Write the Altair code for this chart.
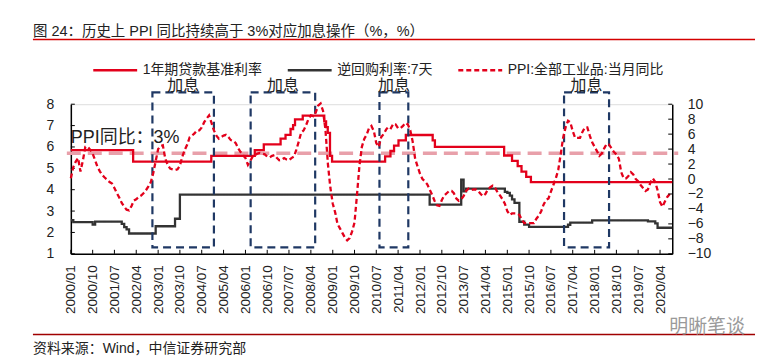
import altair as alt
import pandas as pd

FONT = "Liberation Sans, Arial, Noto Sans CJK SC, sans-serif"
RED = "#E3001B"
DARK = "#333333"
NAVY = "#1F3864"
PINK = "#E8A0AA"
TXT = "#222222"

# ---------------- data ----------------
title_text = "图 24：历史上 PPI 同比持续高于 3%对应加息操作（%，%）"
source_text = "资料来源：Wind，中信证券研究部"
watermark_text = "明晰笔谈"

SER_LEND = "1年期贷款基准利率"
SER_REPO = "逆回购利率:7天"
SER_PPI = "PPI:全部工业品:当月同比"

lend_dates = ["2000-01-01", "2002-02-21", "2004-10-29", "2006-04-28", "2006-08-19",
              "2007-03-18", "2007-05-19", "2007-07-21", "2007-08-22", "2007-09-15",
              "2007-12-21", "2008-09-16", "2008-10-09", "2008-10-30", "2008-11-27",
              "2008-12-23", "2010-10-20", "2010-12-26", "2011-02-09", "2011-04-06",
              "2011-07-07", "2012-06-08", "2012-07-06", "2014-11-22", "2015-03-01",
              "2015-05-11", "2015-06-28", "2015-08-26", "2015-10-24", "2020-09-01"]
lend_values = [5.85, 5.31, 5.58, 5.85, 6.12, 6.39, 6.57, 6.84, 7.02, 7.29,
               7.47, 7.20, 6.93, 6.66, 5.58, 5.31, 5.56, 5.81, 6.06, 6.31,
               6.56, 6.31, 6.00, 5.60, 5.35, 5.10, 4.85, 4.60, 4.35, 4.35]

repo_dates = ["2000-01-01", "2000-02-01", "2000-10-01", "2000-11-01", "2001-10-01",
              "2001-11-01", "2001-12-01", "2002-01-01", "2002-12-01", "2003-08-01",
              "2003-10-01", "2012-05-01", "2013-06-01", "2013-07-01", "2013-08-01",
              "2014-12-01", "2015-01-01", "2015-02-01", "2015-03-01", "2015-04-01",
              "2015-06-01", "2015-08-01", "2015-10-01", "2017-02-01", "2017-03-01",
              "2017-12-01", "2019-11-01", "2020-02-01", "2020-03-01", "2020-09-01"]
repo_values = [2.57, 2.48, 2.37, 2.51, 2.40, 2.25, 2.14, 1.95, 2.29, 2.64,
               3.77, 3.30, 4.47, 3.92, 4.05, 3.90, 3.85, 3.72, 3.55, 3.38,
               2.50, 2.37, 2.26, 2.36, 2.46, 2.56, 2.52, 2.42, 2.22, 2.22]

ppi_2000 = [0.1, 1.6, 2.3, 2.8, 1.0, 2.5, 4.3, 4.3, 3.9, 3.4, 2.5, 1.6]
ppi_2001 = [1.0, 0.5, 0.2, -0.1, -0.4, -0.6, -1.2, -1.9, -2.5, -3.2, -3.7, -4.1]
ppi_2002 = [-4.2, -3.6, -2.9, -2.7, -2.4, -2.2, -1.9, -1.5, -1.0, -0.4, 0.8, 2.4]
ppi_2003 = [4.0, 4.4, 4.5, 2.7, 1.9, 1.4, 1.3, 1.2, 1.3, 1.8, 3.0, 3.9]
ppi_2004 = [4.6, 5.6, 5.8, 6.1, 6.5, 6.5, 6.9, 7.6, 8.1, 8.5, 7.5, 6.5]
ppi_2005 = [5.8, 5.4, 5.6, 5.8, 5.9, 5.6, 5.2, 5.1, 4.8, 4.1, 3.6, 3.2]
ppi_2006 = [2.8, 1.9, 2.4, 3.0, 3.2, 3.4, 3.5, 3.4, 3.3, 3.0, 2.9, 3.1]
ppi_2007 = [3.2, 2.8, 2.5, 2.6, 2.8, 2.6, 2.5, 2.8, 3.0, 3.9, 5.0, 6.2]
ppi_2008 = [6.5, 7.2, 8.0, 8.5, 8.4, 8.9, 9.8, 10.1, 9.1, 6.6, 2.0, -1.1]
ppi_2009 = [-3.3, -4.5, -6.0, -6.6, -7.2, -7.8, -8.2, -7.9, -7.0, -5.8, -2.1, 1.7]
ppi_2010 = [4.3, 5.4, 5.9, 6.8, 7.1, 6.4, 4.8, 4.3, 5.6, 6.0, 6.6, 7.0]
ppi_2011 = [6.8, 7.4, 7.3, 6.8, 6.8, 7.1, 7.5, 7.3, 6.5, 5.0, 2.7, 1.7]
ppi_2012 = [0.7, 0.0, -0.3, -0.7, -1.4, -2.1, -2.9, -3.5, -3.6, -2.8, -2.2, -1.9]
ppi_2013 = [-1.6, -1.6, -1.9, -2.6, -2.9, -2.7, -2.3, -1.6, -1.3, -1.5, -1.4, -1.4]
ppi_2014 = [-1.6, -2.0, -2.3, -2.0, -1.4, -1.1, -0.9, -1.2, -1.8, -2.2, -2.7, -3.3]
ppi_2015 = [-4.3, -4.8, -4.6, -4.6, -4.6, -4.8, -5.4, -5.9, -5.9, -5.9, -5.9, -5.9]
ppi_2016 = [-5.3, -4.9, -4.3, -3.4, -2.8, -2.6, -1.7, -0.8, 0.1, 1.2, 3.3, 5.5]
ppi_2017 = [6.9, 7.8, 7.6, 6.4, 5.5, 5.5, 5.5, 6.3, 6.9, 6.9, 5.8, 4.9]
ppi_2018 = [4.3, 3.7, 3.1, 3.4, 4.1, 4.7, 4.6, 4.1, 3.6, 3.3, 2.7, 0.9]
ppi_2019 = [0.1, 0.1, 0.4, 0.9, 0.6, 0.0, -0.3, -0.8, -1.2, -1.6, -1.4, -0.5]
ppi_2020 = [0.1, -0.4, -1.5, -3.1, -3.7, -3.0, -2.4, -2.0]

box_starts = ["2002-10-21", "2006-03-07", "2010-08-10", "2016-12-13"]
box_ends = ["2004-12-01", "2008-05-25", "2011-08-07", "2018-07-01"]
box_label = "加息"
box_bottom = 1.3
box_top = 8.55
box_label_y = 8.85

ppi_line_label = "PPI同比：3%"
ppi_line_value = 3.45     # right axis
ppi_label_date = "2000-01-01"
ppi_label_y = 6.4         # left axis

tick_labels = ["2000/01", "2000/10", "2001/07", "2002/04", "2003/01", "2003/10", "2004/07",
               "2005/04", "2006/01", "2006/10", "2007/07", "2008/04", "2009/01", "2009/10",
               "2010/07", "2011/04", "2012/01", "2012/10", "2013/07", "2014/04", "2015/01",
               "2015/10", "2016/07", "2017/04", "2018/01", "2018/10", "2019/07", "2020/04"]
left_ticks = [1, 2, 3, 4, 5, 6, 7, 8]
right_ticks = [-10, -8, -6, -4, -2, 0, 2, 4, 6, 8, 10]

# ---------------- tables ----------------
ppi_values = (ppi_2000 + ppi_2001 + ppi_2002 + ppi_2003 + ppi_2004 + ppi_2005 + ppi_2006
              + ppi_2007 + ppi_2008 + ppi_2009 + ppi_2010 + ppi_2011 + ppi_2012 + ppi_2013
              + ppi_2014 + ppi_2015 + ppi_2016 + ppi_2017 + ppi_2018 + ppi_2019 + ppi_2020)
ppi_dates = [f"{2000 + i // 12}-{i % 12 + 1:02d}-01" for i in range(len(ppi_values))]

df_lend = pd.DataFrame({"date": lend_dates, "value": lend_values, "series": SER_LEND})
df_repo = pd.DataFrame({"date": repo_dates, "value": repo_values, "series": SER_REPO})
df_ppi = pd.DataFrame({"date": ppi_dates, "value": ppi_values, "series": SER_PPI})

mids = [(pd.Timestamp(s) + (pd.Timestamp(e) - pd.Timestamp(s)) / 2).strftime("%Y-%m-%d")
        for s, e in zip(box_starts, box_ends)]
df_box = pd.DataFrame({"start": box_starts, "end": box_ends, "mid": mids,
                       "lo": box_bottom, "hi": box_top, "ly": box_label_y, "label": box_label})
df_ticks = pd.DataFrame({"date": [t.replace("/", "-") + "-01" for t in tick_labels]})
df_lt = pd.DataFrame({"v": left_ticks})
df_rt = pd.DataFrame({"v": right_ticks})
df_one = pd.DataFrame({"a": [0]})
df_ppilabel = pd.DataFrame({"date": [ppi_label_date], "y": [ppi_label_y], "t": [ppi_line_label]})
df_pink = pd.DataFrame({"v": [ppi_line_value]})

W, H = 603, 150


def dt(s):
    y, m = s.split("/")
    return alt.DateTime(year=int(y), month=int(m), date=1, utc=True)


xscale = alt.Scale(type="utc", domain=[alt.DateTime(year=2000, month=1, date=1, utc=True),
                                       alt.DateTime(year=2020, month=9, date=1, utc=True)])
xaxis = alt.Axis(values=[dt(t) for t in tick_labels],
                 labelExpr="utcFormat(datum.value, '%Y/%m')",
                 labelAngle=270, tickSize=0, labelPadding=11, labelFontSize=13.5,
                 labelColor=TXT, labelFont=FONT, labelOverlap=False, labelFlush=False,
                 domainColor="#000000", domainWidth=1.5, grid=False, title=None)
lscale = alt.Scale(domain=[1, 8], nice=False, zero=False)
rscale = alt.Scale(domain=[-10, 10], nice=False, zero=False)
laxis = alt.Axis(values=left_ticks, tickSize=0, labelPadding=17, labelFontSize=14,
                 labelColor=TXT, labelFont=FONT, domainColor="#000000", domainWidth=1.5,
                 labelOverlap=False, labelFlush=False, grid=False, title=None)
raxis = alt.Axis(orient="right", values=right_ticks, tickSize=0, labelPadding=15,
                 labelFontSize=14, labelColor=TXT, labelFont=FONT, domainColor="#000000",
                 labelOverlap=False, labelFlush=False,
                 domainWidth=1.5, grid=False, title=None)


def X(field):
    return alt.X(field, scale=xscale, axis=xaxis)


def YL(field):
    return alt.Y(field, scale=lscale, axis=laxis)


def YR(field):
    return alt.Y(field, scale=rscale, axis=raxis)


series_domain = [SER_LEND, SER_REPO, SER_PPI]
legend = alt.Legend(title=None, orient="none", legendX=21, legendY=-42, direction="horizontal",
                    columns=3, symbolType="stroke", symbolSize=1936, symbolStrokeWidth=2.5,
                    labelFontSize=14, labelFont=FONT, labelColor=TXT, labelOffset=4,
                    columnPadding=24, clipHeight=16, padding=0, labelLimit=400)
color_enc = alt.Color("series:N", scale=alt.Scale(domain=series_domain, range=[RED, DARK, RED]),
                      legend=legend)
dash_enc = alt.StrokeDash("series:N",
                          scale=alt.Scale(domain=series_domain, range=[[1, 0], [1, 0], [5, 3]]),
                          legend=legend)

# pink 3% line (right scale), drawn underneath
pink = alt.Chart(df_pink).mark_rule(color=PINK, strokeWidth=3.5, strokeDash=[14, 7]).encode(
    x=alt.value(-4), x2=alt.value(W + 6),
    y=alt.Y("v:Q", scale=rscale, axis=None))

# left group
lend = alt.Chart(df_lend).mark_line(interpolate="step-after", strokeWidth=2.3).encode(
    x=X("date:T"), y=YL("value:Q"), color=color_enc, strokeDash=dash_enc)
repo = alt.Chart(df_repo).mark_line(interpolate="step-after", strokeWidth=2.3).encode(
    x=X("date:T"), y=YL("value:Q"), color=color_enc, strokeDash=dash_enc)
boxes = alt.Chart(df_box).mark_rect(fill="transparent", stroke=NAVY, strokeWidth=2.2,
                                    strokeDash=[8, 5]).encode(
    x=X("start:T"), x2="end:T", y=YL("lo:Q"), y2="hi:Q")
box_text = alt.Chart(df_box).mark_text(fontSize=16, font=FONT, color=TXT, baseline="middle").encode(
    x=X("mid:T"), y=YL("ly:Q"), text="label:N")
ppi_lab = alt.Chart(df_ppilabel).mark_text(fontSize=18, font=FONT, color=TXT, align="left",
                                           baseline="middle").encode(
    x=X("date:T"), y=YL("y:Q"), text="t:N")
xticks = alt.Chart(df_ticks).mark_rule(color="#000000", strokeWidth=1).encode(
    x=X("date:T"), y=alt.value(H - 4), y2=alt.value(H))
lticks = alt.Chart(df_lt).mark_rule(color="#000000", strokeWidth=1).encode(
    y=YL("v:Q"), x=alt.value(0), x2=alt.value(4))

title_mark = alt.Chart(df_one).mark_text(text=title_text, fontSize=14.5, font=FONT, color=TXT,
                                         align="left", baseline="middle").encode(
    x=alt.value(-38), y=alt.value(-72))
title_rule = alt.Chart(df_one).mark_rule(color="#D40000", strokeWidth=1.5).encode(
    x=alt.value(-38), x2=alt.value(686), y=alt.value(-65))
foot_rule = alt.Chart(df_one).mark_rule(color="#A00000", strokeWidth=1.5).encode(
    x=alt.value(-38), x2=alt.value(686), y=alt.value(231))
foot_text = alt.Chart(df_one).mark_text(text=source_text, fontSize=14, font=FONT, color=TXT,
                                        align="left", baseline="middle").encode(
    x=alt.value(-38), y=alt.value(245))
mark_wm = alt.Chart(df_one).mark_text(text=watermark_text, fontSize=19, font=FONT, color="#9A9A9A",
                                      align="left", baseline="middle").encode(
    x=alt.value(600), y=alt.value(223))

left = alt.layer(lend, repo, boxes, box_text, ppi_lab, xticks, lticks,
                 title_mark, title_rule, foot_rule, foot_text, mark_wm)

# right group
ppi = alt.Chart(df_ppi).mark_line(strokeWidth=2.3).encode(
    x=X("date:T"), y=YR("value:Q"), color=color_enc, strokeDash=dash_enc)
rticks = alt.Chart(df_rt).mark_rule(color="#000000", strokeWidth=1).encode(
    y=YR("v:Q"), x=alt.value(W - 4), x2=alt.value(W))
right = alt.layer(ppi, rticks)

chart = alt.layer(pink, left, right).resolve_scale(y="independent").properties(
    width=W, height=H,
    autosize=alt.AutoSizeParams(type="none"),
    padding={"left": 63, "top": 96, "right": 90, "bottom": 108},
).configure_view(strokeWidth=0).configure(background="white")

chart.save("out.html", embed_options={"renderer": "svg", "actions": False})
